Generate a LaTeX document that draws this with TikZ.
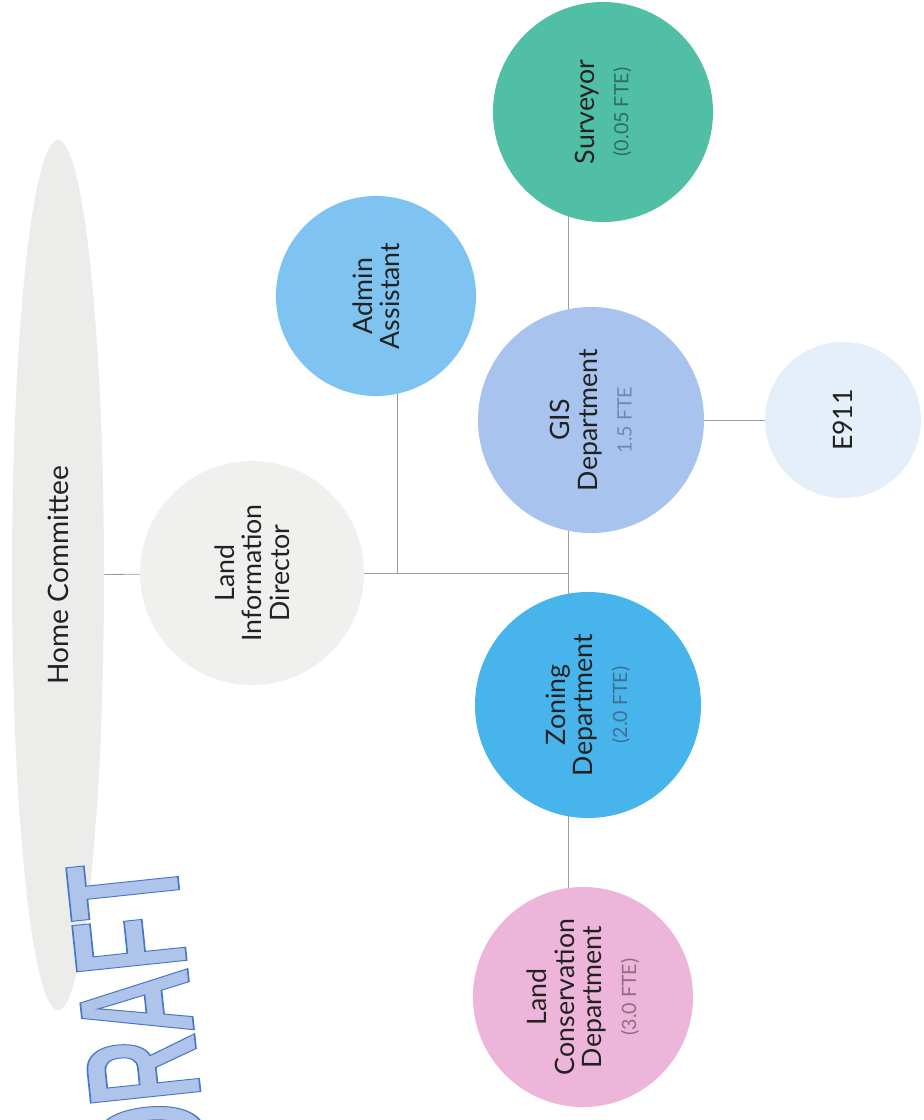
\documentclass[tikz,border=0pt]{standalone}
\usepackage{fontspec}
\setmainfont{Lato}
\newfontfamily\draftfont{Liberation Sans}
\usetikzlibrary{shapes.geometric, positioning, backgrounds}

\definecolor{homegray}{HTML}{ECECEB}
\definecolor{lidgray}{HTML}{F0F0EE}
\definecolor{adminblue}{HTML}{7FC4F0}
\definecolor{gisblue}{HTML}{A8C3EE}
\definecolor{eblue}{HTML}{E5EFFA}
\definecolor{surveyteal}{HTML}{50BFA6}
\definecolor{zoningblue}{HTML}{47B4EC}
\definecolor{conspink}{HTML}{EDB5DA}
\definecolor{draftfill}{HTML}{AFC4EA}
\definecolor{linkgray}{HTML}{9C9C9C}
\definecolor{labeltext}{HTML}{222222}
\definecolor{gisfte}{HTML}{6F89B4}
\definecolor{surveyfte}{HTML}{2E6E60}
\definecolor{zoningfte}{HTML}{3F6F92}
\definecolor{consfte}{HTML}{8E6E85}

\tikzset{
    unit/.style={
        circle,
        draw=none,
        rotate=90,
        align=center,
        text=labeltext,
        inner sep=0pt,
        font=\fontsize{19}{19.5}\selectfont
    },
    link/.style={
        draw=linkgray,
        line width=0.6pt
    }
}

% small line under a unit name
\newcommand{\fte}[2]{\\[5pt]{\fontsize{14}{14}\selectfont\color{#1}#2}}
% outlined letters for the stamp
\newcommand{\outlinetext}[1]{\special{pdf:literal direct 0.29 0.47 0.77 RG 1.2 w 2 Tr}#1\special{pdf:literal direct 0 Tr}}

\begin{document}
\begin{tikzpicture}[x=0.025cm, y=-0.025cm]

\useasboundingbox (0,0) rectangle (924,1120);
\clip (0,0) rectangle (924,1120);

% 1. Committee
\node[ellipse, fill=homegray, rotate=90, minimum width=21.75cm, minimum height=2.3cm,
      text=labeltext, font=\fontsize{20}{20}\selectfont] (home) at (58,575) {Home Committee};

% 2. Director and staff
\node[unit, fill=lidgray, minimum size=5.6cm] (lid) at (252,573) {Land\\Information\\Director};
\node[unit, fill=adminblue, minimum size=5cm] (admin) at (376,296) {Admin\\Assistant};

% 3. Departments
\node[unit, fill=gisblue, minimum size=5.65cm] (gis) at (591,420) {GIS\\Department\fte{gisfte}{1.5 FTE}};
\node[unit, fill=eblue, minimum size=3.9cm] (e911) at (843,420) {E911};
\node[unit, fill=surveyteal, minimum size=5.5cm] (surveyor) at (603,112) {Surveyor\fte{surveyfte}{(0.05 FTE)}};
\node[unit, fill=zoningblue, minimum size=5.65cm] (zoning) at (588,705) {Zoning\\Department\fte{zoningfte}{(2.0 FTE)}};
\node[unit, fill=conspink, minimum size=5.5cm] (landcons) at (583,997) {Land\\Conservation\\Department\fte{consfte}{(3.0 FTE)}};

% 4. Stamp
\node[rotate=96, xscale=0.57, text=draftfill, inner sep=0pt,
      font=\draftfont\bfseries\fontsize{114}{114}\selectfont] (draft) at (137,1015) {\outlinetext{DRAFT}};

% 5. Connections
\begin{scope}[on background layer]
\coordinate (bus) at (568,573);
\coordinate (adminbus) at (397,573);
\draw[link] (home) -- (lid);
\draw[link] (lid) -- (bus);
\draw[link] (adminbus) -- (adminbus |- admin.center);
\draw[link] (bus) -- (bus |- gis.center);
\draw[link] (bus) -- (bus |- zoning.center);
\draw[link] (bus |- surveyor.center) -- (bus |- gis.center);
\draw[link] (bus |- zoning.center) -- (bus |- landcons.center);
\draw[link] (gis) -- (e911);
\end{scope}

\end{tikzpicture}
\end{document}
